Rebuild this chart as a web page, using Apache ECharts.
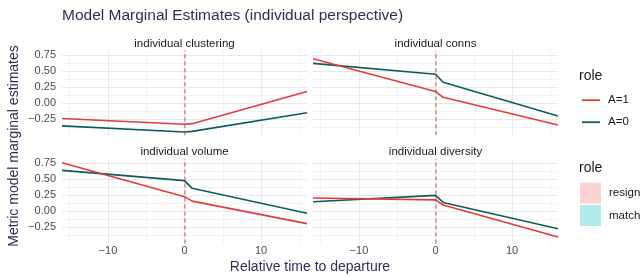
<!DOCTYPE html>
<html>
<head>
<meta charset="utf-8">
<script src="https://cdn.jsdelivr.net/npm/echarts@6/dist/echarts.min.js"></script>
<style>
  html, body { margin: 0; padding: 0; background: #fff; }
  #chart { width: 642px; height: 277px; }
</style>
</head>
<body>
<div id="chart"></div>
<script>
// time points of the marginal estimates
const timePoints = [-16, 0, 1, 16];
const panelNames = ['individual clustering', 'individual conns', 'individual volume', 'individual diversity'];

// A=1 / A=0 estimates per panel
const clusteringA1 = [-0.24, -0.33, -0.32, 0.18];
const clusteringA0 = [-0.355, -0.45, -0.44, -0.15];
const connsA1 = [0.69, 0.18, 0.09, -0.34];
const connsA0 = [0.62, 0.45, 0.325, -0.20];
const volumeA1 = [0.76, 0.23, 0.16, -0.19];
const volumeA0 = [0.64, 0.48, 0.36, -0.03];
const diversityA1 = [0.21, 0.18, 0.10, -0.40];
const diversityA0 = [0.15, 0.25, 0.14, -0.27];

const xTicks = [-10, 0, 10];
const yTicks = [-0.25, 0, 0.25, 0.5, 0.75];

const RED = '#e23b3b';
const TEAL = '#0d5c5c';
const NAVY = '#2e2e5c';
const FONT = 'Liberation Sans';

let chartDom = document.getElementById('chart');
let myChart = echarts.init(chartDom, null, {renderer: 'canvas'});

function zip(ys) {
    let out = [];
    for (let i = 0; i < timePoints.length; i++) {
        out.push([timePoints[i], ys[i]]);
    }
    return out;
}

function minus(s) {
    return String(s).replace('-', '\u2212');
}

// panel boxes: [left, top]
const boxes = [[62, 50.5], [313, 50.5], [62, 158.8], [313, 158.8]];
const panelW = 245, panelH = 84.7;
const panelData = [[clusteringA1, clusteringA0], [connsA1, connsA0], [volumeA1, volumeA0], [diversityA1, diversityA0]];

let grids = [], xAxes = [], yAxes = [], series = [], graphics = [];

for (let p = 0; p < 4; p++) {
    grids.push({
        left: boxes[p][0], top: boxes[p][1], width: panelW, height: panelH,
        containLabel: false, outerBoundsMode: 'none'
    });
    xAxes.push({
        type: 'value', gridIndex: p, min: -16, max: 16,
        axisLine: {show: false}, axisTick: {show: false},
        axisLabel: {
            show: p >= 2, margin: 2, color: '#4d4d4d', fontSize: 11, fontFamily: FONT,
            showMinLabel: true, showMaxLabel: true, hideOverlap: false,
            formatter: function (v) {
                return xTicks.indexOf(v) >= 0 ? minus(v) : '';
            }
        },
        splitLine: {show: true, showMinLine: false, showMaxLine: false,
            lineStyle: {color: ['#f3f3f3', '#e8e8e8'], width: 1}}
    });
    yAxes.push({
        type: 'value', gridIndex: p, min: -0.5, max: 0.82, interval: 0.125,
        axisLine: {show: false}, axisTick: {show: false},
        axisLabel: {
            show: p % 2 === 0, margin: 6, color: '#4d4d4d', fontSize: 11, fontFamily: FONT,
            hideOverlap: false,
            formatter: function (v) {
                for (let t of yTicks) {
                    if (Math.abs(v - t) < 1e-6) return minus(t.toFixed(2));
                }
                return '';
            }
        },
        splitLine: {show: true, showMinLine: false, showMaxLine: false,
            lineStyle: {color: ['#f3f3f3', '#e8e8e8'], width: 1}}
    });
    series.push({
        name: 'A=1', type: 'line', xAxisIndex: p, yAxisIndex: p,
        data: zip(panelData[p][0]), symbol: 'none', color: RED,
        lineStyle: {width: 1.6, color: RED}, z: 3,
        markLine: {
            silent: true, symbol: ['none', 'none'], label: {show: false},
            lineStyle: {type: [4, 3], color: 'rgba(185,50,50,0.55)', width: 1.5},
            data: [{xAxis: 0}]
        }
    });
    series.push({
        name: 'A=0', type: 'line', xAxisIndex: p, yAxisIndex: p,
        data: zip(panelData[p][1]), symbol: 'none', color: TEAL,
        lineStyle: {width: 1.6, color: TEAL}, z: 2
    });
    graphics.push({
        type: 'text', x: boxes[p][0] + panelW / 2, y: boxes[p][1] - 7,
        style: {text: panelNames[p], textAlign: 'center', textVerticalAlign: 'middle',
            font: '11.5px "Liberation Sans"', fill: '#1a1a1a'}
    });
}

// fill legend entries (no marks drawn)
series.push({name: 'resign', type: 'line', xAxisIndex: 0, yAxisIndex: 0, data: [], color: '#fbd3d3', symbol: 'none'});
series.push({name: 'match', type: 'line', xAxisIndex: 0, yAxisIndex: 0, data: [], color: '#b3eaec', symbol: 'none'});

graphics.push(
    {type: 'text', x: 62, y: 16, style: {text: 'Model Marginal Estimates (individual perspective)',
        textAlign: 'left', textVerticalAlign: 'middle', font: '15.5px "Liberation Sans"', fill: NAVY}},
    {type: 'text', x: 310, y: 267, style: {text: 'Relative time to departure',
        textAlign: 'center', textVerticalAlign: 'middle', font: '14px "Liberation Sans"', fill: NAVY}},
    {type: 'text', x: 14, y: 146, rotation: Math.PI / 2, style: {text: 'Metric model marginal estimates',
        textAlign: 'center', textVerticalAlign: 'middle', font: '14px "Liberation Sans"', fill: NAVY}},
    {type: 'text', x: 579, y: 76, style: {text: 'role', textAlign: 'left', textVerticalAlign: 'middle',
        font: '14px "Liberation Sans"', fill: '#1a1a1a'}},
    {type: 'text', x: 579, y: 168, style: {text: 'role', textAlign: 'left', textVerticalAlign: 'middle',
        font: '14px "Liberation Sans"', fill: '#1a1a1a'}}
);

let option = {
    animation: false,
    backgroundColor: '#ffffff',
    textStyle: {fontFamily: FONT},
    grid: grids,
    xAxis: xAxes,
    yAxis: yAxes,
    legend: [{
        data: ['A=1', 'A=0'], orient: 'vertical', left: 582, top: 94.2, padding: 0,
        icon: 'rect', itemWidth: 18, itemHeight: 1.8, itemGap: 10, selectedMode: false,
        itemStyle: {borderWidth: 0},
        textStyle: {color: '#1a1a1a', fontSize: 11.5, fontFamily: FONT, padding: [0, 0, 0, 3]}
    }, {
        data: ['resign', 'match'], orient: 'vertical', left: 580, top: 182.7, padding: 0,
        icon: 'rect', itemWidth: 21, itemHeight: 21, itemGap: 1.3, selectedMode: false,
        itemStyle: {borderWidth: 0},
        textStyle: {color: '#1a1a1a', fontSize: 11.5, fontFamily: FONT, padding: [0, 0, 0, 3]}
    }],
    graphic: graphics,
    series: series
};
myChart.setOption(option);
</script>
</body>
</html>
